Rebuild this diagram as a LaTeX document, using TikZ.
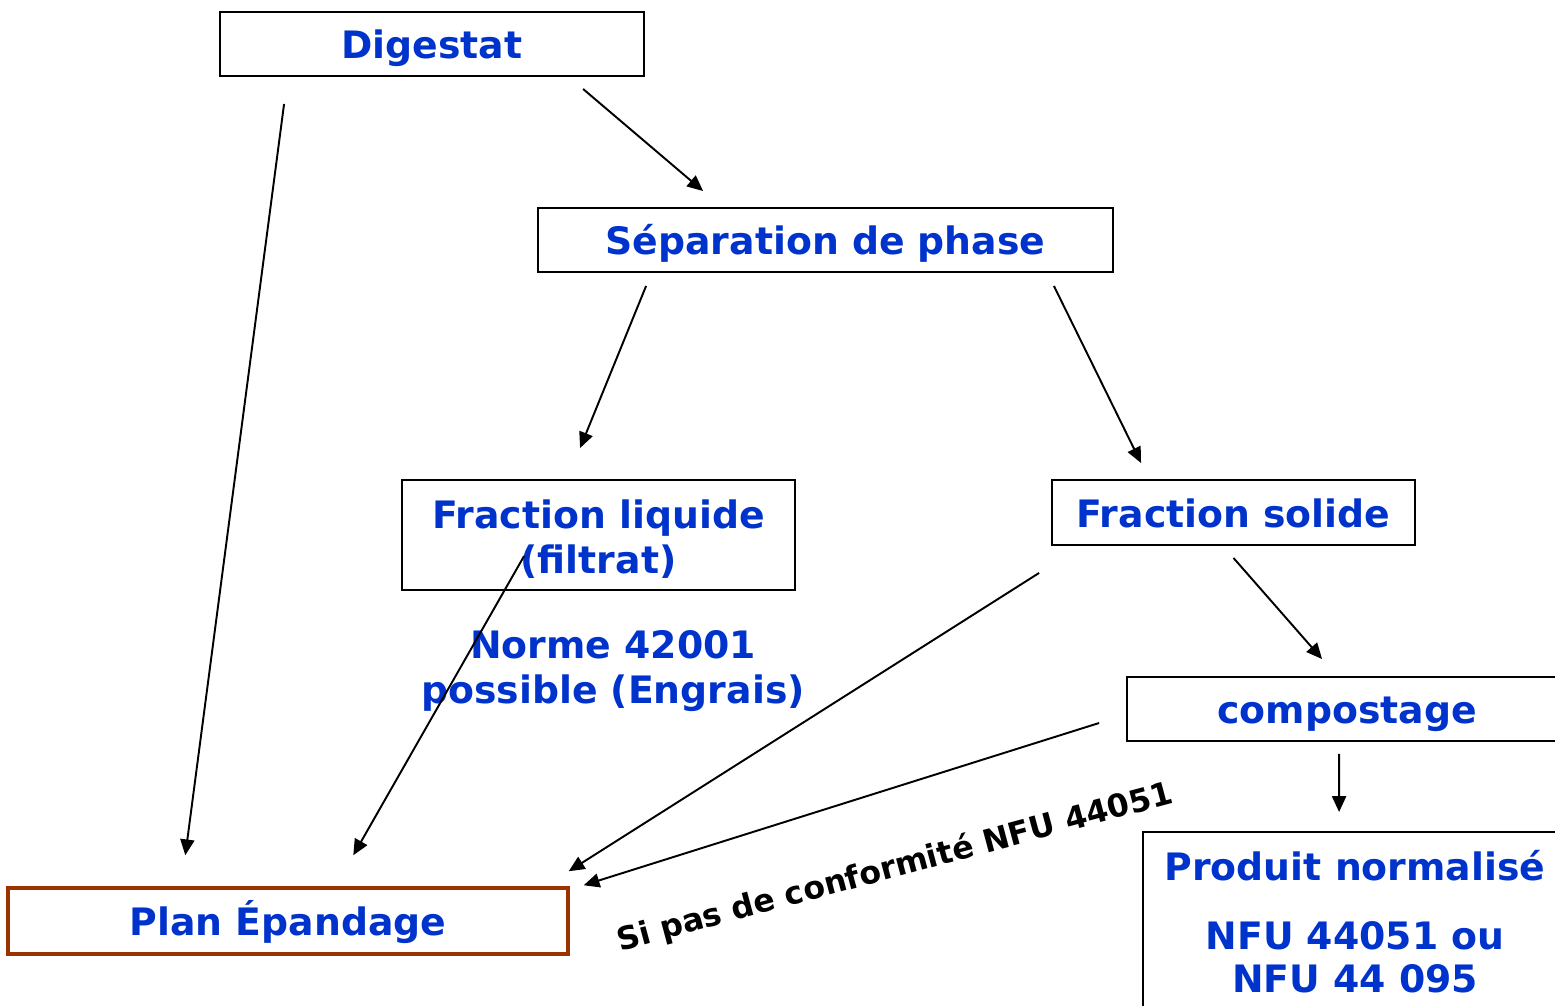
\documentclass[tikz,border=0pt]{standalone}
\usepackage{fontspec}
\setmainfont{DejaVu Sans}
\usetikzlibrary{arrows.meta}
\definecolor{textblue}{HTML}{0033CC}
\definecolor{rust}{HTML}{993300}

\begin{document}
\begin{tikzpicture}[
  x=0.02cm,y=-0.02cm,
  box/.style={draw=black,line width=1.1pt,minimum height=1.28cm,align=center,font=\fontsize{21.5}{25.5}\selectfont\bfseries,text=textblue,fill=white,text height=18.3pt,text depth=1.3pt},
  arrow/.style={-{Triangle[length=9pt,width=8pt]},line width=1.1pt,draw=black},
  note/.style={font=\fontsize{21.5}{25.5}\selectfont\bfseries,text=textblue,align=center}
]
\clip (0,0) rectangle (1555,1005);
\node[box,minimum width=8.48cm] (digestat) at (432,44) {Digestat};
\node[box,minimum width=11.5cm] (separation) at (825.5,240) {Séparation de phase};
\node[box,minimum width=7.86cm,minimum height=2.2cm,text height=45.3pt] (liquide) at (598.5,535) {Fraction liquide\\(filtrat)};
\node[box,minimum width=7.26cm,minimum height=1.3cm] (solide) at (1233.5,512.5) {Fraction solide};
\node[box,minimum width=8.8cm] (compostage) at (1347,709) {compostage};
\node[box,minimum width=8.48cm,anchor=north,inner ysep=0.32cm,text height=82.3pt,text depth=4cm] (produit) at (1355,831) {Produit normalisé\\[14pt]NFU 44051 ou\\[-1pt]NFU 44 095};
\node[box,draw=rust,line width=2pt,minimum width=11.2cm,minimum height=1.32cm] (plan) at (288,921) {Plan Épandage};
\node[note] (norme) at (613,671) {Norme 42001\\possible (Engrais)};
\node[font=\fontsize{18}{22}\selectfont\bfseries,rotate=15] (condition) at (895,868) {Si pas de conformité NFU 44051};
\draw[arrow] ([shift={(65,27)}]digestat.south west) -- ([shift={(179,-31)}]plan.north west);
\draw[arrow] ([shift={(364,12)}]digestat.south west) -- ([shift={(166,-16)}]separation.north west);
\draw[arrow] ([shift={(109,13)}]separation.south west) -- ([shift={(179,-31)}]liquide.north west);
\draw[arrow] ([shift={(-60,13)}]separation.south east) -- ([shift={(90,-16)}]solide.north west);
\draw[arrow] ([shift={(123,77)}]liquide.north west) -- ([shift={(347,-31)}]plan.north west);
\draw[arrow] ([shift={(-12,27)}]solide.south west) -- ([shift={(-1,-15)}]plan.north east);
\draw[arrow] ([shift={(0,12)}]solide.south) -- ([shift={(196,-17)}]compostage.north west);
\draw[arrow] ([shift={(-27,14)}]compostage.west) -- ([shift={(14,-1)}]plan.north east);
\draw[arrow] ([shift={(213,12)}]compostage.south west) -- ([shift={(197,-19)}]produit.north west);
\end{tikzpicture}
\end{document}
